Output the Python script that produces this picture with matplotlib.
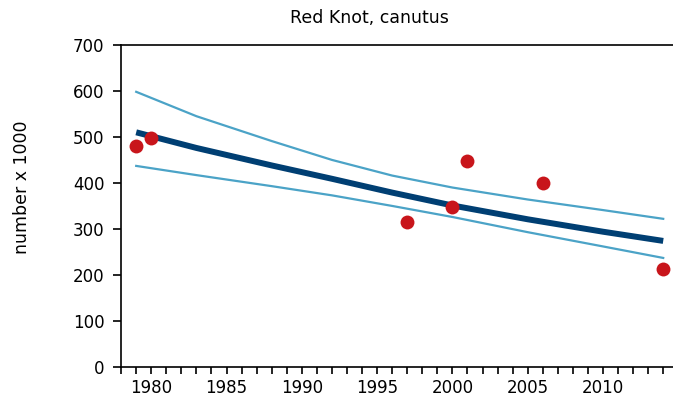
import matplotlib.pyplot as plt
from matplotlib.ticker import MultipleLocator

# counts (x 1000)
years = [1979, 1980, 1997, 2000, 2001, 2006, 2014]
counts = [480, 497, 316, 347, 448, 400, 212]

# fitted trend and confidence band
fit_years = [1979, 1983, 1988, 1992, 1996, 2000, 2005, 2010, 2014]
trend = [510, 476, 438, 409, 379, 351, 321, 294, 274]
upper = [598, 545, 491, 450, 416, 390, 364, 341, 322]
lower = [437, 417, 393, 373, 350, 326, 293, 262, 237]

fig = plt.figure(figsize=(6.73, 4.08), dpi=100)
ax = fig.add_axes([0.18, 0.1005, 0.82, 0.7895])

ax.plot(fit_years, upper, color="#4ba3c7", lw=1.6)
ax.plot(fit_years, lower, color="#4ba3c7", lw=1.6)
ax.plot(fit_years, trend, color="#003f73", lw=4.3, solid_capstyle="butt")
ax.plot(years, counts, "o", color="#c8151b", markersize=10, markeredgewidth=0)

ax.set_xlim(1978.0, 2014.65)
ax.set_ylim(0, 700)
ax.xaxis.set_major_locator(MultipleLocator(5))
ax.xaxis.set_minor_locator(MultipleLocator(1))
ax.yaxis.set_major_locator(MultipleLocator(100))
ax.tick_params(axis="both", which="both", direction="out", width=1.2)
ax.tick_params(axis="both", labelsize=12)
ax.tick_params(axis="x", which="both", length=5)
ax.tick_params(axis="y", length=6, pad=6)
ax.spines["right"].set_visible(False)
for s in ["left", "bottom", "top"]:
    ax.spines[s].set_linewidth(1.2)

fig.text(22 / 673, 1 - 187 / 408, "number x 1000", rotation=90,
         ha="center", va="center", fontsize=12.5)
fig.text(369 / 673, 1 - 18 / 408, "Red Knot, canutus", ha="center", va="center", fontsize=12.5)

fig.savefig("out.png", dpi=100)
